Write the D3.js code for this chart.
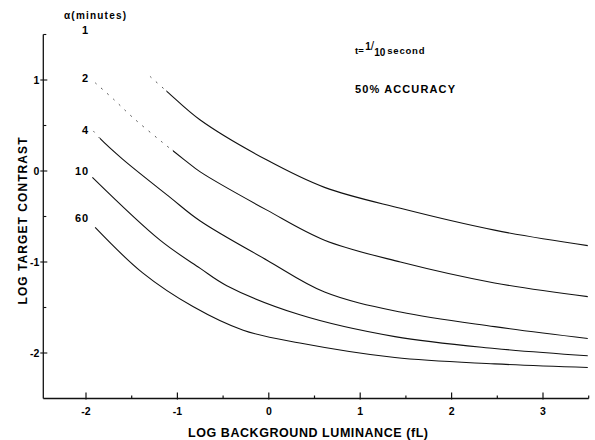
<!DOCTYPE html>
<html>
<head>
<meta charset="utf-8">
<script src="https://cdn.jsdelivr.net/npm/d3@7"></script>
<style>
  body { margin: 0; background: #fff; }
  svg { display: block; font-family: "Liberation Sans", Arial, sans-serif; font-weight: bold; }
</style>
</head>
<body>
<svg id="chart" width="595" height="440"></svg>
<script>
// 曲线标签 (a, minutes)
const seriesNames = ["1", "2", "4", "10", "60"];

// log background luminance / log target contrast
const lum1 = [-1.30, -1.11, -0.75, -0.02, 0.61, 1.44, 2.47, 3.49];
const con1 = [1.04, 0.87, 0.56, 0.12, -0.18, -0.41, -0.65, -0.82];

const lum2 = [-1.90, -1.70, -1.49, -1.17, -0.92, -0.75, -0.02, 0.61, 1.44, 2.47, 3.49];
const con2 = [0.97, 0.79, 0.59, 0.32, 0.12, -0.01, -0.43, -0.76, -1.00, -1.23, -1.38];

const lum4 = [-1.92, -1.85, -1.60, -1.08, -0.75, -0.02, 0.61, 1.44, 2.47, 3.49];
const con4 = [0.44, 0.36, 0.13, -0.29, -0.55, -0.98, -1.33, -1.55, -1.71, -1.84];

const lum10 = [-1.93, -1.19, -0.75, -0.46, 0.34, 1.38, 2.47, 3.49];
const con10 = [-0.07, -0.76, -1.07, -1.26, -1.58, -1.82, -1.95, -2.03];

const lum60 = [-1.90, -1.38, -0.83, -0.28, 0.34, 1.38, 2.47, 3.49];
const con60 = [-0.62, -1.12, -1.49, -1.75, -1.89, -2.05, -2.12, -2.16];

// faint (dotted) start of some curves, up to this luminance
const faintUntil = [-1.12, -1.05, -1.85, null, null];

// label column position (log contrast of each label)
const labelLevels = [1.55, 1.02, 0.45, 0.0, -0.52];

const xTicks = [-2, -1, 0, 1, 2, 3];
const yTicks = [1, 0, -1, -2];

const lumList = [lum1, lum2, lum4, lum10, lum60];
const conList = [con1, con2, con4, con10, con60];

const svg = d3.select("#chart");

const x = d3.scaleLinear().domain([-2.5, 3.5]).range([40.3, 588.7]);
const y = d3.scaleLinear().domain([-2.5, 1.5]).range([398.5, 34.5]);

// 坐标轴
const xAxis = svg.append("g").attr("transform", `translate(0,${y(-2.5)})`);
xAxis.append("line")
    .attr("x1", x(-2.5) + 3).attr("x2", x(3.5))
    .attr("stroke", "#111").attr("stroke-width", 1.4);
xAxis.selectAll(".xt")
    .data(d3.range(-2, 3.51, 0.5))
    .enter().append("line")
    .attr("x1", d => x(d)).attr("x2", d => x(d))
    .attr("y1", d => Number.isInteger(d) ? -6 : -3).attr("y2", d => Number.isInteger(d) ? 1 : 0)
    .attr("stroke", "#111").attr("stroke-width", 1.2);
xAxis.selectAll(".xl")
    .data(xTicks)
    .enter().append("text")
    .attr("x", d => x(d)).attr("y", 16)
    .attr("text-anchor", "middle")
    .attr("font-size", 10.5)
    .text(d => d < 0 ? "-" + Math.abs(d) : d);

const yAxis = svg.append("g").attr("transform", `translate(${x(-2.5) + 3},0)`);
yAxis.append("line")
    .attr("y1", y(1.5)).attr("y2", y(-2.5))
    .attr("stroke", "#111").attr("stroke-width", 1.3);
yAxis.selectAll(".yt")
    .data(d3.range(-2, 1.51, 0.5))
    .enter().append("line")
    .attr("y1", d => y(d)).attr("y2", d => y(d))
    .attr("x1", d => Number.isInteger(d) ? -3 : 0).attr("x2", d => Number.isInteger(d) ? 4 : 3)
    .attr("stroke", "#111").attr("stroke-width", 1.1);
yAxis.selectAll(".yl")
    .data(yTicks)
    .enter().append("text")
    .attr("x", -4).attr("y", d => y(d) + 4)
    .attr("text-anchor", "end")
    .attr("font-size", 10.5)
    .text(d => d < 0 ? "-" + Math.abs(d) : d);

// 轴标题
svg.append("text")
    .attr("x", 308).attr("y", 437)
    .attr("text-anchor", "middle")
    .attr("font-size", 12.5)
    .attr("textLength", 240).attr("lengthAdjust", "spacing")
    .text("LOG BACKGROUND LUMINANCE (fL)");

svg.append("text")
    .attr("transform", "translate(27,221) rotate(-90)")
    .attr("text-anchor", "middle")
    .attr("font-size", 12)
    .attr("textLength", 167).attr("lengthAdjust", "spacing")
    .text("LOG TARGET CONTRAST");

// 曲线
const line = d3.line()
    .x(d => x(d[0]))
    .y(d => y(d[1]))
    .curve(d3.curveCatmullRom.alpha(0.5));

const defs = svg.append("defs");

lumList.forEach((lums, i) => {
    const pts = lums.map((v, j) => [v, conList[i][j]]);
    const cut = faintUntil[i];
    if (cut !== null) {
        defs.append("clipPath").attr("id", `solid${i}`)
            .append("rect")
            .attr("x", x(cut)).attr("y", 0)
            .attr("width", 595 - x(cut)).attr("height", 440);
        defs.append("clipPath").attr("id", `faint${i}`)
            .append("rect")
            .attr("x", 0).attr("y", 0)
            .attr("width", x(cut)).attr("height", 440);
        svg.append("path")
            .attr("d", line(pts))
            .attr("fill", "none")
            .attr("stroke", "#555")
            .attr("stroke-width", 1)
            .attr("stroke-dasharray", "2,6")
            .attr("clip-path", `url(#faint${i})`);
    }
    svg.append("path")
        .attr("d", line(pts))
        .attr("fill", "none")
        .attr("stroke", "#111")
        .attr("stroke-width", 1.1)
        .attr("clip-path", cut !== null ? `url(#solid${i})` : null);
});

// 曲线标签
svg.append("text")
    .attr("x", 64).attr("y", 19)
    .attr("font-size", 10)
    .attr("textLength", 62).attr("lengthAdjust", "spacing")
    .text("α(minutes)");

svg.selectAll(".sl")
    .data(seriesNames)
    .enter().append("text")
    .attr("x", x(-1.965)).attr("y", (d, i) => y(labelLevels[i]) + 4)
    .attr("text-anchor", "end")
    .attr("font-size", 11)
    .attr("letter-spacing", 1)
    .text(d => d);

// 条件说明
const note = svg.append("text")
    .attr("x", 355).attr("y", 54)
    .attr("font-size", 9.5);
note.append("tspan").text("t=");
note.append("tspan").attr("dy", -4).attr("dx", 1.5).attr("font-size", 10).text("1");
note.append("tspan").attr("font-size", 12).attr("font-weight", "normal").text("/");
note.append("tspan").attr("dy", 6).attr("font-size", 10).text("10");
note.append("tspan").attr("dy", -2).attr("dx", 2).attr("letter-spacing", 0.8).text("second");

svg.append("text")
    .attr("x", 355).attr("y", 93)
    .attr("font-size", 11)
    .attr("textLength", 100).attr("lengthAdjust", "spacing")
    .text("50% ACCURACY");
</script>
</body>
</html>
